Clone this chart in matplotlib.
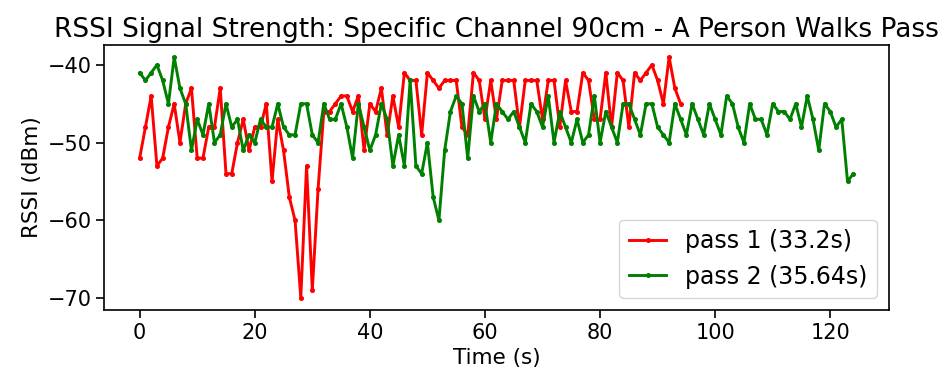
import numpy as np
import matplotlib
matplotlib.use("Agg")
import matplotlib.pyplot as plt

# --- datos (RSSI en dBm, una muestra por unidad de tiempo) ---
pass1_rssi = [-52, -48, -44, -53, -52, -48, -45, -50, -45, -43,
              -52, -52, -48, -48, -43, -54, -54, -50, -47, -51,
              -48, -48, -45, -55, -47, -51, -57, -60, -70, -53,
              -69, -56, -46, -46, -45, -44, -44, -46, -44, -51,
              -45, -46, -43, -49, -44, -48, -41, -42, -42, -49,
              -41, -42, -43, -42, -42, -42, -48, -49, -41, -42,
              -47, -42, -47, -42, -42, -42, -48, -42, -42, -42,
              -47, -42, -42, -48, -42, -46, -46, -41, -42, -47,
              -47, -41, -48, -41, -42, -48, -41, -42, -41, -40,
              -42, -45, -39, -43, -45]

pass2_rssi = [-41, -42, -41, -40, -42, -45, -39, -43, -45, -51,
              -47, -49, -45, -50, -49, -45, -48, -47, -51, -49,
              -50, -47, -48, -48, -45, -48, -49, -49, -45, -45,
              -49, -50, -45, -47, -47, -45, -48, -52, -45, -48,
              -51, -49, -45, -47, -53, -49, -53, -42, -53, -54,
              -50, -57, -60, -51, -46, -44, -45, -52, -44, -46,
              -45, -50, -45, -46, -47, -46, -48, -50, -45, -46,
              -48, -44, -50, -46, -48, -50, -47, -50, -49, -44,
              -50, -46, -48, -50, -45, -45, -47, -49, -45, -45,
              -48, -49, -50, -45, -47, -49, -45, -47, -49, -45,
              -47, -49, -44, -45, -48, -50, -45, -47, -47, -49,
              -45, -46, -46, -47, -45, -48, -44, -47, -51, -45,
              -46, -48, -47, -55, -54]

label1 = "pass 1 (33.2s)"
label2 = "pass 2 (35.64s)"

t1 = np.arange(len(pass1_rssi))
t2 = np.arange(len(pass2_rssi))

fig, ax = plt.subplots(figsize=(9.41, 3.76), dpi=100)
fig.subplots_adjust(left=0.1105, right=0.9447, bottom=0.1755, top=0.880)

ax.plot(t1, pass1_rssi, color="red", marker="o", markersize=2.6, linewidth=2.1, label=label1)
ax.plot(t2, pass2_rssi, color="green", marker="o", markersize=2.6, linewidth=2.1, label=label2)

ax.set_title("RSSI Signal Strength: Specific Channel 90cm - A Person Walks Pass", fontsize=19)
ax.set_xlabel("Time (s)", fontsize=15.5)
ax.set_ylabel("RSSI (dBm)", fontsize=15.5)
ax.tick_params(labelsize=15, length=5.5, width=1.2)
for s in ax.spines.values():
    s.set_linewidth(1.2)

ax.legend(loc="lower right", fontsize=17, handlelength=1.6)

fig.savefig("out.png", dpi=100)
